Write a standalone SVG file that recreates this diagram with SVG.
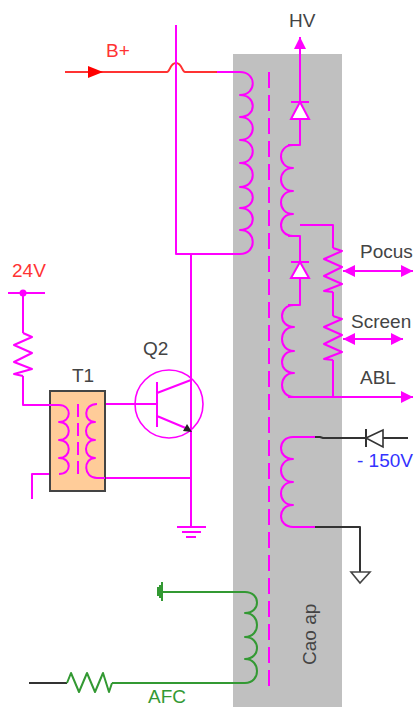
<svg xmlns="http://www.w3.org/2000/svg" width="418" height="707" viewBox="0 0 418 707">
<style>
text{font-family:"Liberation Sans",Arial,sans-serif;font-size:19px;fill:#444}
.m,.g,.k,.r{fill:none;stroke-width:2;stroke-linejoin:round}
.m{stroke:#f0f}
.g{stroke:#393}
.k{stroke:#333}
.r{stroke:#f33}
.mf{fill:#f0f}
</style>
<defs>
<marker id="am" markerUnits="userSpaceOnUse" markerWidth="14" markerHeight="14" refX="13" refY="7" orient="auto-start-reverse"><path d="M1,1L13,7L1,13Z" fill="#f0f"/></marker>
</defs>
<rect id="housing" x="233" y="54" width="109" height="653" fill="#c0c0c0"/>
<g id="connectors">
<path class="r" d="M65,72H167C170,72 170,63 176,63C182,63 182,72 185,72H217"/>
<path d="M88,66L103,72L88,78Z" fill="#f00"/>
<path class="m" d="M217,72H240"/>
<path class="m" d="M176,25V254H240"/>
<path class="m" d="M191,254V527"/>
<path class="m" d="M300,102V37" marker-end="url(#am)"/>
<path class="m" d="M300,119V145H288"/>
<path class="m" d="M288,236H300V262M300,225H333V248M300,278V305H288"/>
<path class="m" d="M333,292V316M333,360V397"/>
<path class="m" d="M288,397H413" marker-end="url(#am)"/>
<path class="m" d="M343,271H413" marker-start="url(#am)" marker-end="url(#am)"/>
<path class="m" d="M343,339H403" marker-start="url(#am)" marker-end="url(#am)"/>
<path class="m" d="M23,293V333M23,376V405H59"/>
<path class="m" d="M59,474H32V499"/>
<path class="m" d="M95,404H157M95,478H191"/>
<path class="k" d="M315,437H320L323,438H366M383,438H408"/>
<path class="k" d="M315,527H360V572"/>
<path class="g" d="M163,592H245"/>
<path class="g" d="M112,683H245"/>
<path class="k" d="M29,683H67"/>
</g>
<g id="primary-coil"><path class="m" d="M240,72C257,72 257,95 240,95C257,95 257,117 240,117C257,117 257,140 240,140C257,140 257,163 240,163C257,163 257,187 240,187C257,187 257,208 240,208C257,208 257,230 240,230C257,230 257,254 240,254"/></g>
<path id="core" d="M269,72V692" fill="none" stroke="#f0f" stroke-width="2" stroke-dasharray="16 7"/>
<g id="hv-diode"><path d="M300,102L291,119H309Z" fill="#fff" stroke="#f0f" stroke-width="2"/><path class="m" d="M291,102H309"/></g>
<g id="hv-coil-1"><path class="m" d="M293,145C277,145 277,168 293,168C277,168 277,191 293,191C277,191 277,214 293,214C277,214 277,236 293,236"/></g>
<g id="hv-diode-2"><path d="M300,262L291,278H309Z" fill="#fff" stroke="#f0f" stroke-width="2"/><path class="m" d="M291,262H309"/></g>
<g id="hv-coil-2"><path class="m" d="M294,305C278,305 278,327 294,327C278,327 278,351 294,351C278,351 278,373 294,373C278,373 278,397 294,397"/></g>
<g id="focus-pot"><path class="m" d="M333,248L342,251L324,259L342,267L324,276L342,284L324,291L333,292"/></g>
<g id="screen-pot"><path class="m" d="M333,316L342,319L324,327L342,335L324,344L342,352L324,359L333,360"/></g>
<g id="neg-coil"><path class="m" d="M315,437H293C277,437 277,459 293,459C277,459 277,482 293,482C277,482 277,505 293,505C277,505 277,527 293,527H315"/></g>
<g id="neg-diode"><path d="M366,438L383,430V447Z" fill="none" stroke="#333" stroke-width="1.6"/><path class="k" d="M366,429V447"/></g>
<g id="gnd-black"><path d="M351,572H370L360,583Z" fill="none" stroke="#444" stroke-width="1.6"/></g>
<g id="afc-coil"><path class="g" d="M245,592C261,592 261,613 245,613C261,613 261,637 245,637C261,637 261,659 245,659C261,659 261,683 245,683"/></g>
<g id="afc-res"><path class="g" d="M67,683L71,673L79,692L87,673L95,692L103,673L109,692L112,683"/></g>
<g id="afc-gnd"><path class="g" d="M162,582V601M160,585V598M158,587V596"/></g>
<g id="r-24v"><path class="m" d="M23,333L32,337L14,345L32,353L14,362L32,369L14,374L23,376"/></g>
<g id="rail-24v"><path class="m" d="M8,293H45"/><circle class="mf" cx="23" cy="293" r="3.5"/></g>
<g id="T1">
<rect x="50" y="391" width="55" height="100" fill="#fc9" stroke="#444" stroke-width="2"/>
<path class="m" d="M23,405H59C72,405 72,422 59,422C72,422 72,440 59,440C72,440 72,458 59,458C72,458 72,474 59,474"/>
<path class="m" d="M97,404C83,404 83,422 95,422C83,422 83,440 95,440C83,440 83,458 95,458C83,458 83,478 97,478H105"/>
<path d="M78,404V478" fill="none" stroke="#f0f" stroke-width="2" stroke-dasharray="13 6"/>
</g>
<g id="Q2">
<circle cx="169" cy="404" r="34" fill="none" stroke="#f0f" stroke-width="1.6"/>
<path class="m" d="M157,382V427M157,393L191,380M157,416L188,429"/>
<path d="M192,432L183,431L187,424Z" fill="#222"/>
</g>
<g id="gnd-q2"><path class="m" d="M177,527H206M182,532H201M186,537H196"/></g>
<g id="labels">
<text x="106" y="57" style="fill:#f33">B+</text>
<text x="289" y="27">HV</text>
<text x="360" y="258">Pocus</text>
<text x="351" y="328">Screen</text>
<text x="360" y="384">ABL</text>
<text x="143" y="355">Q2</text>
<text x="72" y="382">T1</text>
<text x="12" y="277" style="fill:#f33">24V</text>
<text x="357" y="467" style="fill:#33f">- 150V</text>
<text x="148" y="703" style="fill:#393">AFC</text>
<text transform="translate(316 665) rotate(-90)">Cao ap</text>
</g>
</svg>
